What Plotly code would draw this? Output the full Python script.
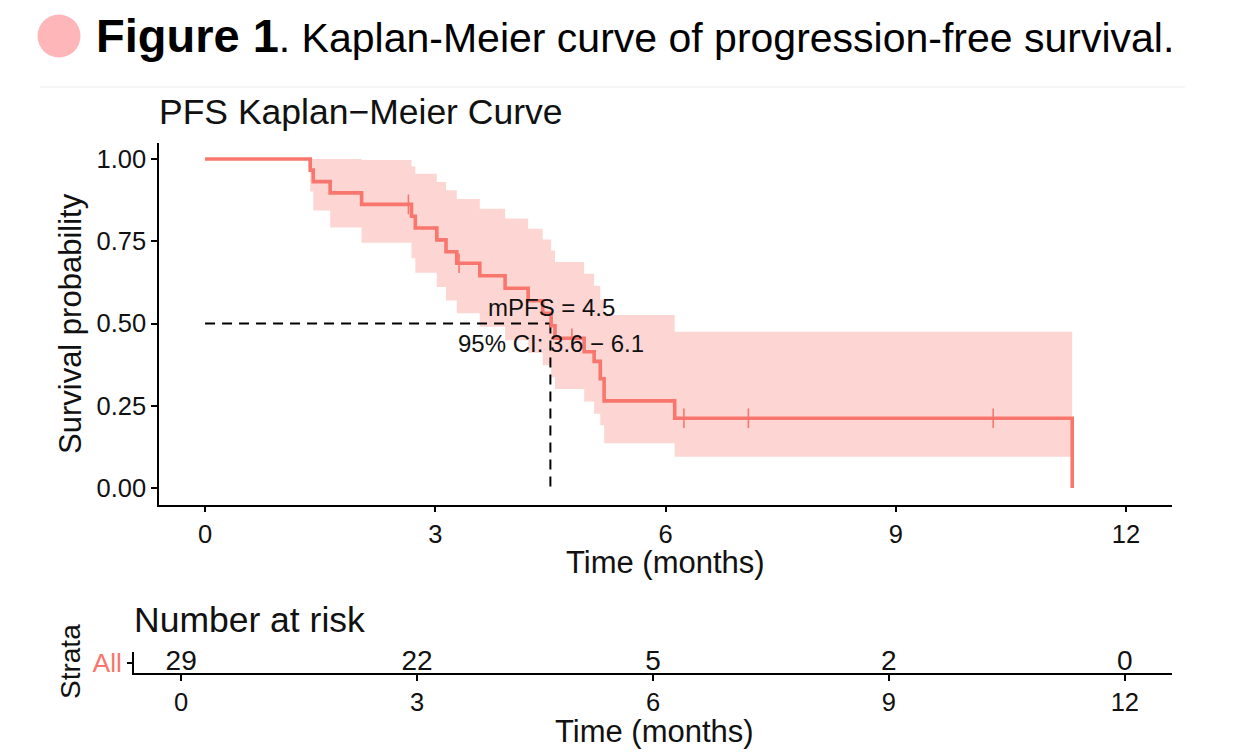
import numpy as np
import plotly.graph_objects as go

# ---- data ----
time = [0, 1.37, 1.41, 1.63, 2.04, 2.69, 2.74, 3.02, 3.14, 3.28, 3.58, 3.91,
        4.21, 4.40, 4.51, 4.56, 4.94, 5.07, 5.15, 5.20, 6.12, 11.30]
surv = [1.0, 0.966, 0.931, 0.897, 0.862, 0.826, 0.790, 0.754, 0.718, 0.683,
        0.645, 0.607, 0.569, 0.531, 0.493, 0.455, 0.414, 0.385, 0.332, 0.265,
        0.212, 0.0]
upper = [1.0, 1.0, 1.0, 1.0, 0.997, 0.977, 0.955, 0.930, 0.905, 0.878, 0.849,
         0.819, 0.788, 0.755, 0.722, 0.687, 0.651, 0.615, 0.573, 0.526, 0.475]
lower = [1.0, 0.901, 0.843, 0.792, 0.745, 0.698, 0.654, 0.611, 0.570, 0.531,
         0.490, 0.449, 0.411, 0.373, 0.337, 0.301, 0.263, 0.226, 0.191, 0.136,
         0.095]
censor_time = [2.65, 3.31, 4.78, 6.24, 7.08, 10.27]
median_pfs = 4.5
ci_low, ci_high = 3.6, 6.1
risk_time = [0, 3, 6, 9, 12]
risk_n = [29, 22, 5, 2, 0]
x_ticks = [0, 3, 6, 9, 12]
y_ticks = [0, 0.25, 0.5, 0.75, 1.0]
y_ticktext = ["0.00", "0.25", "0.50", "0.75", "1.00"]
strata = ["All"]

# ---- styling ----
W, H = 1236, 752
SALMON = "#F8766D"
BAND = "rgba(248,118,109,0.30)"
FONT = "Liberation Sans, Arial, Helvetica, sans-serif"
TXT = "#111111"


def px_x(p):
    return p / W


def px_y(p):
    return 1 - p / H


# step ribbon polygon
bx, bu, bl = [], [], []
for i in range(len(upper)):
    bx += [time[i], time[i + 1]]
    bu += [upper[i], upper[i]]
    bl += [lower[i], lower[i]]

cens_idx = np.searchsorted(np.array(time), np.array(censor_time), side="right") - 1
cens_y = [surv[i] for i in cens_idx]

fig = go.Figure()

fig.add_trace(go.Scatter(
    x=bx + bx[::-1], y=bu + bl[::-1], fill="toself", fillcolor=BAND,
    line=dict(width=0), mode="lines", hoverinfo="skip", showlegend=False,
    xaxis="x", yaxis="y"))

# median dashed lines
fig.add_trace(go.Scatter(
    x=[0, median_pfs], y=[0.5, 0.5], mode="lines",
    line=dict(color="black", width=2, dash="10px,7px"), showlegend=False))
fig.add_trace(go.Scatter(
    x=[median_pfs, median_pfs], y=[0.5, 0], mode="lines",
    line=dict(color="black", width=2, dash="10px,7px"), showlegend=False))

fig.add_trace(go.Scatter(
    x=time, y=surv, mode="lines", line=dict(color=SALMON, width=3.6, shape="hv"),
    showlegend=False))

fig.add_trace(go.Scatter(
    x=censor_time, y=cens_y, mode="markers",
    marker=dict(symbol="line-ns", size=14, color=SALMON,
                line=dict(width=1.6, color=SALMON)),
    showlegend=False))

# risk table
fig.add_trace(go.Scatter(
    x=risk_time, y=[0.5] * len(risk_n), mode="text",
    text=[str(n) for n in risk_n], textposition="middle center",
    textfont=dict(size=28, color=TXT, family=FONT), cliponaxis=False,
    showlegend=False, xaxis="x2", yaxis="y2"))

axis_common = dict(showline=True, linecolor="black", linewidth=1.5,
                   ticks="outside", ticklen=6, tickwidth=1.5, tickcolor="black",
                   showgrid=False, zeroline=False, automargin=False,
                   tickfont=dict(size=25.5, color=TXT, family=FONT))

fig.update_layout(
    width=W, height=H, margin=dict(l=0, r=0, t=0, b=0),
    paper_bgcolor="white", plot_bgcolor="white", template="none",
    font=dict(family=FONT, color=TXT),
    xaxis=dict(domain=[px_x(159), px_x(1172)], range=[-0.6, 12.6],
               tickvals=x_ticks, anchor="y", **axis_common),
    yaxis=dict(domain=[px_y(504.5), px_y(142.5)], range=[-0.05, 1.05],
               tickvals=y_ticks, ticktext=y_ticktext, anchor="x", **axis_common),
    xaxis2=dict(domain=[px_x(134), px_x(1172)], range=[-0.6, 12.6],
                tickvals=x_ticks, anchor="y2", **axis_common),
    yaxis2=dict(domain=[px_y(673), px_y(652)], range=[0, 1],
                tickvals=[0.5], ticktext=strata, anchor="x2",
                showline=True, linecolor="black", linewidth=1.5,
                ticks="outside", ticklen=5, tickwidth=1.5, tickcolor="black",
                showgrid=False, zeroline=False, automargin=False,
                tickfont=dict(size=26.5, color=SALMON, family=FONT)),
)

ann = [
    dict(text="<span style='font-size:47px'><b>Figure 1</b></span>. Kaplan-Meier curve of progression-free survival.",
         x=px_x(94), y=px_y(35), xanchor="left", yanchor="middle",
         font=dict(size=41, color="black", family=FONT)),
    dict(text="PFS Kaplan\u2212Meier Curve", x=px_x(157), y=px_y(112),
         xanchor="left", yanchor="middle", font=dict(size=35.5, color=TXT)),
    dict(text="Time (months)", x=px_x(665), y=px_y(562), xanchor="center",
         yanchor="middle", font=dict(size=31, color=TXT)),
    dict(text="Survival probability", x=px_x(70), y=px_y(324), textangle=-90,
         xanchor="center", yanchor="middle", font=dict(size=31, color=TXT)),
    dict(text=f"mPFS = {median_pfs}", x=4.52, y=0.55, xref="x", yref="y",
         xanchor="center", yanchor="middle", font=dict(size=24, color=TXT)),
    dict(text=f"95% CI: {ci_low} \u2212 {ci_high}", x=4.51, y=0.44, xref="x",
         yref="y", xanchor="center", yanchor="middle",
         font=dict(size=24, color=TXT)),
    dict(text="Number at risk", x=px_x(132), y=px_y(620), xanchor="left",
         yanchor="middle", font=dict(size=35.5, color=TXT)),
    dict(text="Strata", x=px_x(70), y=px_y(662), textangle=-90,
         xanchor="center", yanchor="middle", font=dict(size=28, color=TXT)),
    dict(text="Time (months)", x=px_x(655), y=px_y(731), xanchor="center",
         yanchor="middle", font=dict(size=31, color=TXT)),
]
for a in ann:
    a.setdefault("xref", "paper")
    a.setdefault("yref", "paper")
    a["showarrow"] = False
fig.update_layout(annotations=ann)

fig.update_layout(shapes=[
    dict(type="circle", xref="paper", yref="paper",
         x0=px_x(37.5), x1=px_x(80.5), y0=px_y(57.5), y1=px_y(14.5),
         fillcolor="#FFB6B9", line=dict(width=0)),
    dict(type="line", xref="paper", yref="paper",
         x0=px_x(40), x1=px_x(1185), y0=px_y(87), y1=px_y(87),
         line=dict(color="#EDEDED", width=1)),
])

fig.write_html(
    "out.html",
    config={"displayModeBar": False},
    post_script="document.body.style.margin='0px';document.body.style.overflow='hidden';",
)
